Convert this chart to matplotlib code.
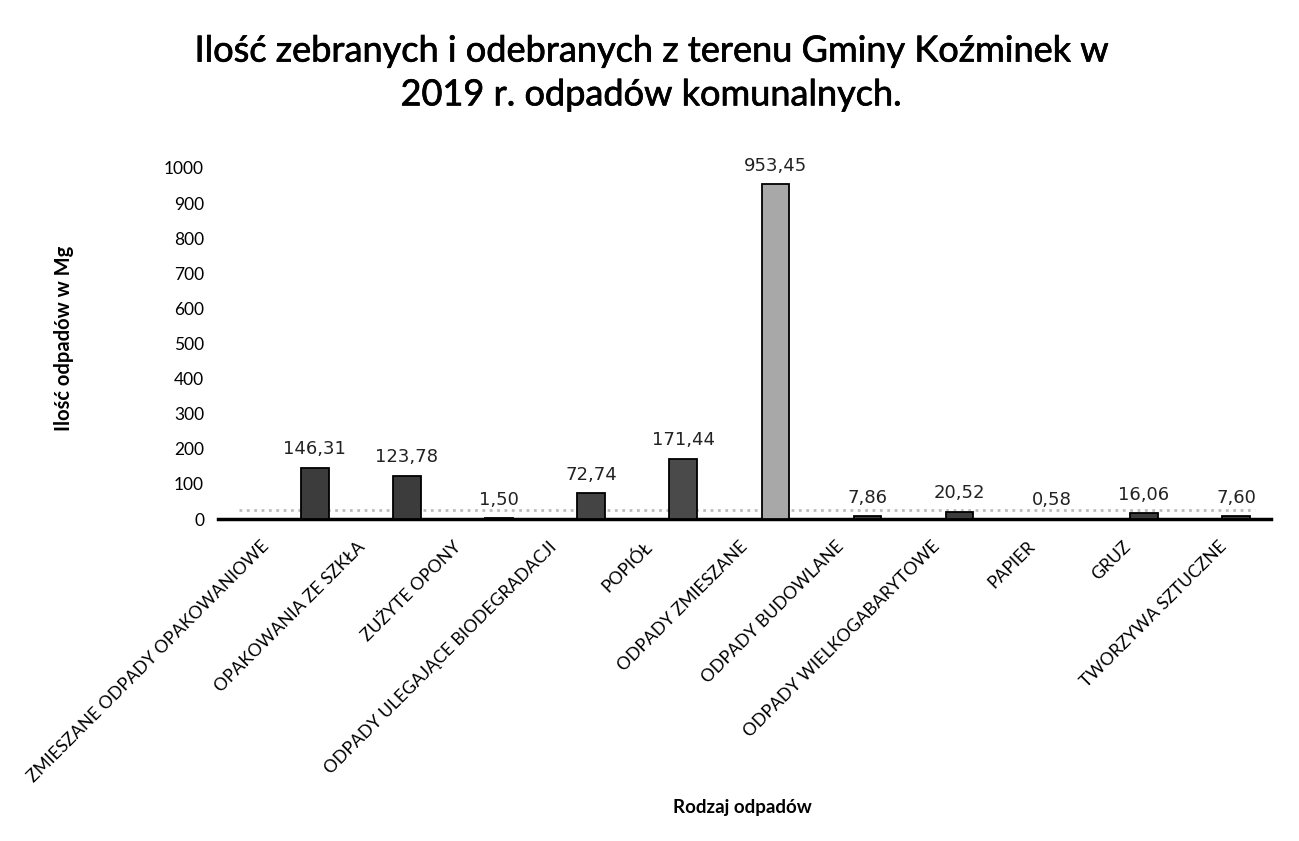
import matplotlib
matplotlib.use("Agg")
import matplotlib.pyplot as plt
import matplotlib.patheffects as pe

plt.rcParams["font.family"] = ["Lato", "DejaVu Sans"]

kategorie = ["ZMIESZANE ODPADY OPAKOWANIOWE", "OPAKOWANIA ZE SZKŁA", "ZUŻYTE OPONY",
             "ODPADY ULEGAJĄCE BIODEGRADACJI", "POPIÓŁ", "ODPADY ZMIESZANE",
             "ODPADY BUDOWLANE", "ODPADY WIELKOGABARYTOWE", "PAPIER", "GRUZ",
             "TWORZYWA SZTUCZNE"]
ilosc = [146.31, 123.78, 1.50, 72.74, 171.44, 953.45, 7.86, 20.52, 0.58, 16.06, 7.60]
kolory = ["#3c3c3c", "#3c3c3c", "#3c3c3c", "#444444", "#4a4a4a", "#a8a8a8",
          "#3c3c3c", "#3c3c3c", "#3c3c3c", "#3c3c3c", "#3c3c3c"]
y_ticks = list(range(0, 1001, 100))

fig = plt.figure(figsize=(12.99, 8.41), dpi=100)
ax = fig.add_axes([218 / 1299, 1 - 519 / 841, (1271 - 218) / 1299, (519 - 168) / 841])

x = list(range(len(kategorie)))
bars = ax.bar(x, ilosc, width=0.3, color=kolory, edgecolor="black", linewidth=1.3, zorder=3)

# podloga wykresu (szary pas jak w 3D)
ax.axhline(25, xmin=0.02, xmax=0.985, color="#bdbdbd", linewidth=2, linestyle=":", zorder=1)

for b, v in zip(bars, ilosc):
    ax.annotate(f"{v:.2f}".replace(".", ","), (b.get_x() + b.get_width() / 2, v),
                xytext=(0, 7), textcoords="offset points", ha="center", va="bottom",
                fontsize=13, family=["DejaVu Sans"], color="#222222")

ax.set_xlim(-1.05, 10.38)
ax.set_ylim(0, 1000)
ax.set_yticks(y_ticks)
ax.set_yticklabels([str(t) for t in y_ticks], fontsize=12.5)
ax.set_xticks([])
ax.tick_params(axis="y", length=0, pad=10)
for s in ["top", "right", "left"]:
    ax.spines[s].set_visible(False)
ax.spines["bottom"].set_linewidth(2.5)

# etykiety kategorii na przedniej krawedzi osi (jak w wykresie 3D)
ax_lab = ax.twiny()
ax_lab.set_xlim(-0.45, 10.55)
ax_lab.xaxis.set_ticks_position("bottom")
ax_lab.set_xticks(x)
ax_lab.set_xticklabels(kategorie, rotation=45, ha="right", rotation_mode="anchor", fontsize=12.6)
ax_lab.tick_params(axis="x", length=0, pad=14)
for s in ax_lab.spines.values():
    s.set_visible(False)

fig.text(64 / 1299, 1 - 338 / 841, "Ilość odpadów w Mg", rotation=90, ha="center", va="center",
         fontsize=14.5, fontweight="bold")
fig.text(742 / 1299, 1 - 808 / 841, "Rodzaj odpadów", ha="center", va="center",
         fontsize=13.5, fontweight="bold")
fig.text(651 / 1299, 1 - 73 / 841,
         "Ilość zebranych i odebranych z terenu Gminy Koźminek w\n2019 r. odpadów komunalnych.",
         ha="center", va="center", fontsize=26, fontweight="normal", linespacing=1.4,
         path_effects=[pe.withStroke(linewidth=0.5, foreground="black")])

fig.savefig("out.png", dpi=100, facecolor="white")
